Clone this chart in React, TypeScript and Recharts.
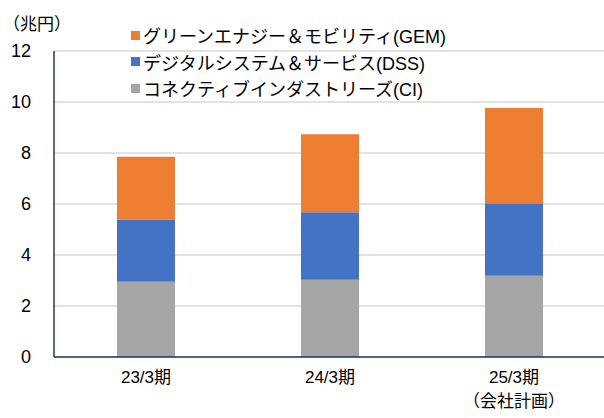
import { BarChart, Bar, XAxis, YAxis, CartesianGrid } from 'recharts'

const periods = ['23/3期', '24/3期', '25/3期']
const periodNotes = ['', '', '（会社計画）']
const ci = [2.95, 3.03, 3.19]
const dss = [2.44, 2.65, 2.81]
const gem = [2.46, 3.06, 3.76]
const yTicks = [0, 2, 4, 6, 8, 10, 12]

const series = [
  { key: 'gem', name: 'グリーンエナジー＆モビリティ(GEM)', color: '#ED7D31' },
  { key: 'dss', name: 'デジタルシステム＆サービス(DSS)', color: '#4472C4' },
  { key: 'ci', name: 'コネクティブインダストリーズ(CI)', color: '#A5A5A5' },
]

const data = periods.map((p, i) => ({
  period: p,
  note: periodNotes[i],
  ci: ci[i],
  dss: dss[i],
  gem: gem[i],
}))

const FONT = '"Liberation Sans", Arial, "Noto Sans CJK JP", sans-serif'
const AXIS = '#203864'

function PeriodTick(props: any) {
  const { x, y, payload, index } = props
  const note = periodNotes[index]
  return (
    <g>
      <text x={x} y={y + 18} textAnchor="middle" fontSize={17} fill="#000" fontFamily={FONT}>
        {payload.value}
      </text>
      {note ? (
        <text x={x} y={y + 42} textAnchor="middle" fontSize={17} fill="#000" fontFamily={FONT}>
          {note}
        </text>
      ) : null}
    </g>
  )
}

function LegendBox() {
  return (
    <div style={{ position: 'absolute', left: 131, top: 22, fontFamily: FONT, fontSize: 18, color: '#000', zIndex: 2 }}>
      {series.map((s) => (
        <div key={s.key} style={{ display: 'flex', alignItems: 'center', height: 26.5 }}>
          <span style={{ width: 9, height: 9, background: s.color, marginRight: 3, display: 'inline-block' }} />
          <span>{s.name}</span>
        </div>
      ))}
    </div>
  )
}

export default function App() {
  return (
    <div style={{ position: 'absolute', left: 0, top: 0, width: 604, height: 418, overflow: 'hidden', background: '#fff' }}>
      <BarChart
        width={606}
        height={418}
        data={data}
        margin={{ top: 51, right: 0, left: 0, bottom: 31 }}
        barSize={58}
      >
        <CartesianGrid vertical={false} stroke="#d9d9d9" strokeWidth={1.5} />
        <XAxis
          dataKey="period"
          height={30}
          tickLine={false}
          axisLine={{ stroke: AXIS, strokeWidth: 1.5 }}
          tick={<PeriodTick />}
          interval={0}
        />
        <YAxis
          width={54}
          domain={[0, 12]}
          ticks={yTicks}
          tickLine={false}
          tickSize={0}
          tickMargin={23}
          axisLine={{ stroke: AXIS, strokeWidth: 1.5 }}
          tick={{ fontSize: 18, fill: '#000', fontFamily: FONT }}
        />
        <Bar dataKey="ci" stackId="a" fill="#A5A5A5" isAnimationActive={false} />
        <Bar dataKey="dss" stackId="a" fill="#4472C4" isAnimationActive={false} />
        <Bar dataKey="gem" stackId="a" fill="#ED7D31" isAnimationActive={false} />
      </BarChart>
      <div style={{ position: 'absolute', left: 3, top: 10, fontFamily: FONT, fontSize: 17, color: '#000' }}>
        （兆円）
      </div>
      <LegendBox />
    </div>
  )
}
